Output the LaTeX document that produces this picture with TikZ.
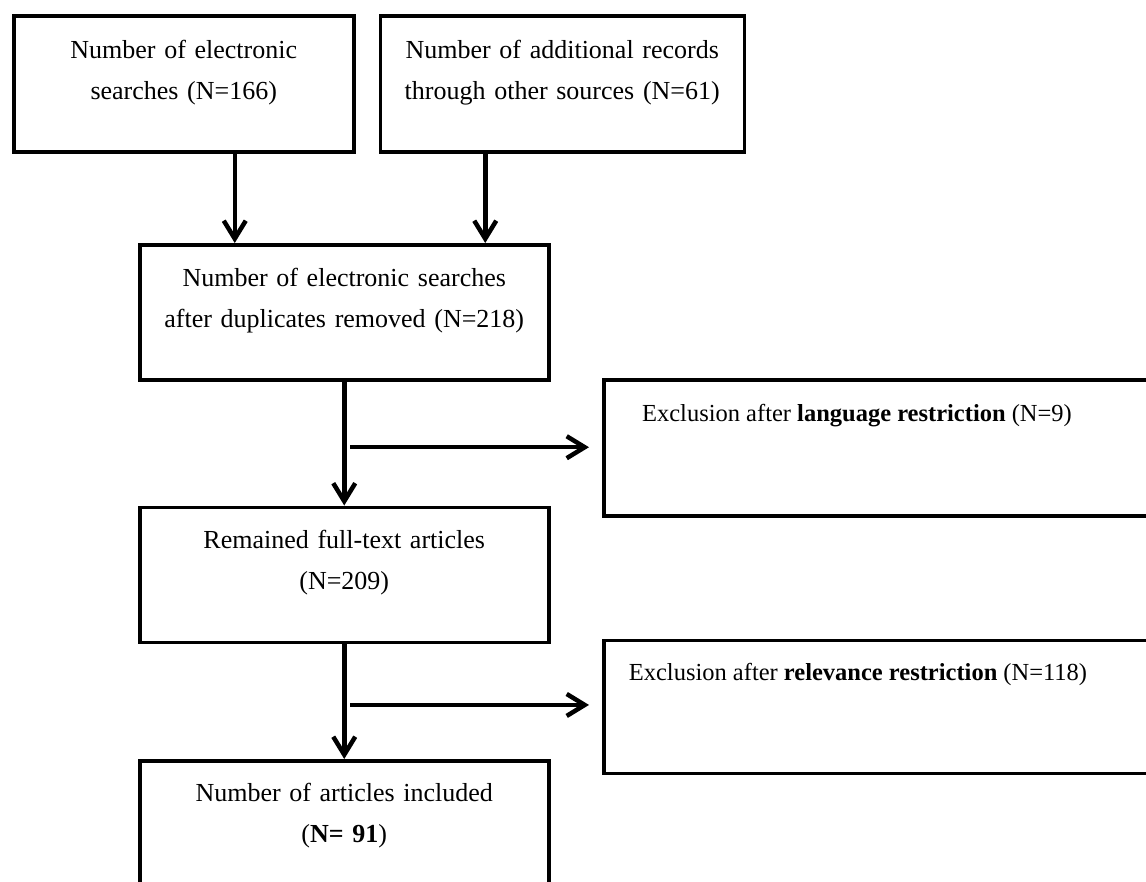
\documentclass[tikz,border=0pt]{standalone}
\usepackage{fontspec}
\setmainfont{Liberation Serif}
\usetikzlibrary{arrows.meta}
\usetikzlibrary{positioning}
\usetikzlibrary{calc}

\tikzset{
  box/.style={draw, line width=3.5pt, inner sep=0pt, align=center},
  flow/.style={line width=4.5pt, -{Straight Barb[length=18pt,width=22pt]}},
  exclabel/.style={anchor=base, inner sep=0pt, font=\fontsize{24.5}{39}\selectfont},
}

\begin{document}
\begin{tikzpicture}[font=\fontsize{26}{41}\selectfont]
        \useasboundingbox (0pt,0pt) rectangle (1146pt,-881pt);
        \clip (0pt,0pt) rectangle (1146pt,-881pt);

        \node [box, text width=340pt, text height=43pt, text depth=93pt, anchor=north west] (search) at (12pt,-14pt) {Number of electronic\\searches (N=166)};
        \node [box, text width=364pt, text height=43pt, text depth=93pt, right = 23pt of search] (other) {Number of additional records\\through other sources (N=61)};

        \node [box, text width=409pt, text height=42pt, text depth=93pt, anchor=north west] (dedup) at (138pt,-243pt) {Number of electronic searches\\after duplicates removed (N=218)};
        \node [box, text width=409pt, text height=41pt, text depth=94pt, below = 124pt of dedup] (fulltext) {Remained full-text articles\\(N=209)};
        \node [box, text width=409pt, text height=41pt, text depth=140pt, below = 115pt of fulltext] (incl) {Number of articles included\\(\textbf{N= 91})};

        \node [box, minimum width=600pt, minimum height=136pt, anchor=north west] (lang) at (602pt,-378pt) {};
        \node [box, minimum width=600pt, minimum height=133pt, below = 121pt of lang] (relev) {};
        \node [exclabel] (langtext) at ([xshift=255pt, yshift=-43pt]lang.north west) {Exclusion after \textbf{language restriction} (N=9)};
        \node [exclabel] (relevtext) at ([xshift=256pt, yshift=-42pt]relev.north west) {Exclusion after \textbf{relevance restriction} (N=118)};

        \coordinate (split1) at ($(dedup.south)!0.53!(fulltext.north)$);
        \coordinate (split2) at ($(fulltext.south)!0.53!(incl.north)$);

        \draw [flow] ([xshift=51pt]search.south) -- ([xshift=51pt]search.south |- dedup.north);
        \draw [flow] ([xshift=-77pt]other.south) -- ([xshift=-77pt]other.south |- dedup.north);

        \draw [flow] (dedup) -- (fulltext);
        \draw [flow] ([xshift=6pt]split1) -- ([xshift=-13pt]split1 -| lang.west);

        \draw [flow] (fulltext) -- (incl);
        \draw [flow] ([xshift=6pt]split2) -- ([xshift=-13pt]split2 -| relev.west);
    \end{tikzpicture}
\end{document}
